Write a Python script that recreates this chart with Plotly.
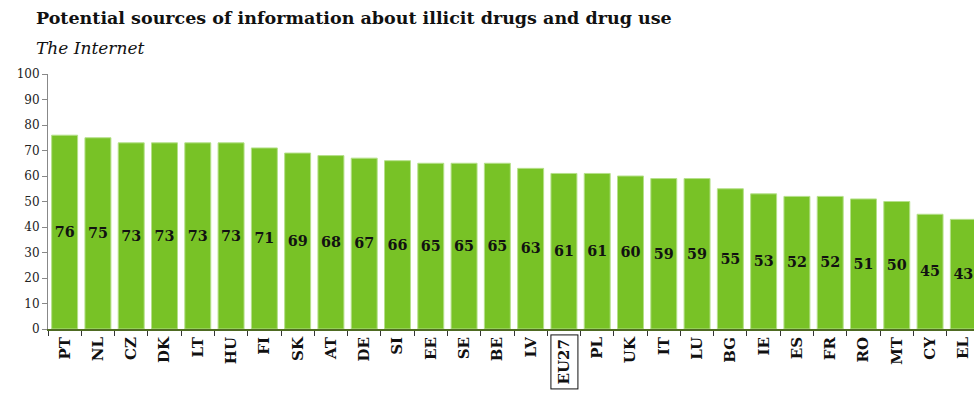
import plotly.graph_objects as go

countries = ["PT", "NL", "CZ", "DK", "LT", "HU", "FI", "SK", "AT", "DE", "SI", "EE", "SE", "BE",
             "LV", "EU27", "PL", "UK", "IT", "LU", "BG", "IE", "ES", "FR", "RO", "MT", "CY", "EL"]
values = [76, 75, 73, 73, 73, 73, 71, 69, 68, 67, 66, 65, 65, 65,
          63, 61, 61, 60, 59, 59, 55, 53, 52, 52, 51, 50, 45, 43]
y_ticks = [0, 10, 20, 30, 40, 50, 60, 70, 80, 90, 100]

title_text = "Potential sources of information about illicit drugs and drug use"
subtitle_text = "The Internet"
highlight = "EU27"

SERIF = "Georgia, 'DejaVu Serif', serif"
GREEN = "#78c226"

W, H = 974, 393
ML, MT, MB = 48, 74, 64
PLOT_W = W - ML
PLOT_H = H - MT - MB


def px_to_paper(px, py):
    return (px - ML) / PLOT_W, (H - MB - py) / PLOT_H


fig = go.Figure(go.Bar(
    x=countries,
    y=values,
    text=[str(v) for v in values],
    textposition="inside",
    insidetextanchor="middle",
    textangle=0,
    textfont=dict(family=SERIF, size=15, color="#111111", weight="bold"),
    marker=dict(color=GREEN, line=dict(color="#b5e08a", width=1)),
    cliponaxis=False,
))

fig.update_layout(
    width=W,
    height=H,
    margin=dict(l=ML, r=0, t=MT, b=MB),
    paper_bgcolor="white",
    plot_bgcolor="white",
    bargap=0.22,
    showlegend=False,
)

fig.update_xaxes(
    type="category",
    range=[-0.5, 27.32],
    tickmode="array",
    tickvals=countries,
    ticktext=["" if c == highlight else c for c in countries],
    tickangle=-90,
    tickfont=dict(family=SERIF, size=15, color="#111111", weight="bold"),
    showline=True,
    linecolor="#4f6b22",
    linewidth=2,
    ticks="outside",
    tickson="boundaries",
    ticklen=5,
    tickcolor="#333333",
    showgrid=False,
    zeroline=False,
)

fig.update_yaxes(
    range=[0, 100],
    tickvals=y_ticks,
    tickfont=dict(family=SERIF, size=12, color="#222222"),
    showline=True,
    linecolor="#888888",
    linewidth=1,
    ticks="outside",
    ticklen=5,
    tickcolor="#888888",
    showgrid=False,
    zeroline=False,
)

# boxed label for the EU average
fig.add_annotation(
    x=highlight, y=0, xref="x", yref="y",
    text=highlight,
    textangle=-90,
    showarrow=False,
    yanchor="top",
    yshift=-5,
    font=dict(family=SERIF, size=15, color="#111111", weight="bold"),
    bordercolor="#111111",
    borderwidth=1,
    borderpad=4,
)

tx, ty = px_to_paper(34, 18)
fig.add_annotation(
    x=tx, y=ty, xref="paper", yref="paper",
    text=f"<b>{title_text}</b>", showarrow=False,
    xanchor="left", yanchor="middle",
    font=dict(family=SERIF, size=17.5, color="#111111"),
)
sx, sy = px_to_paper(34, 48)
fig.add_annotation(
    x=sx, y=sy, xref="paper", yref="paper",
    text=f"<i>{subtitle_text}</i>", showarrow=False,
    xanchor="left", yanchor="middle",
    font=dict(family=SERIF, size=17, color="#111111"),
)

fig.write_html("out.html")
